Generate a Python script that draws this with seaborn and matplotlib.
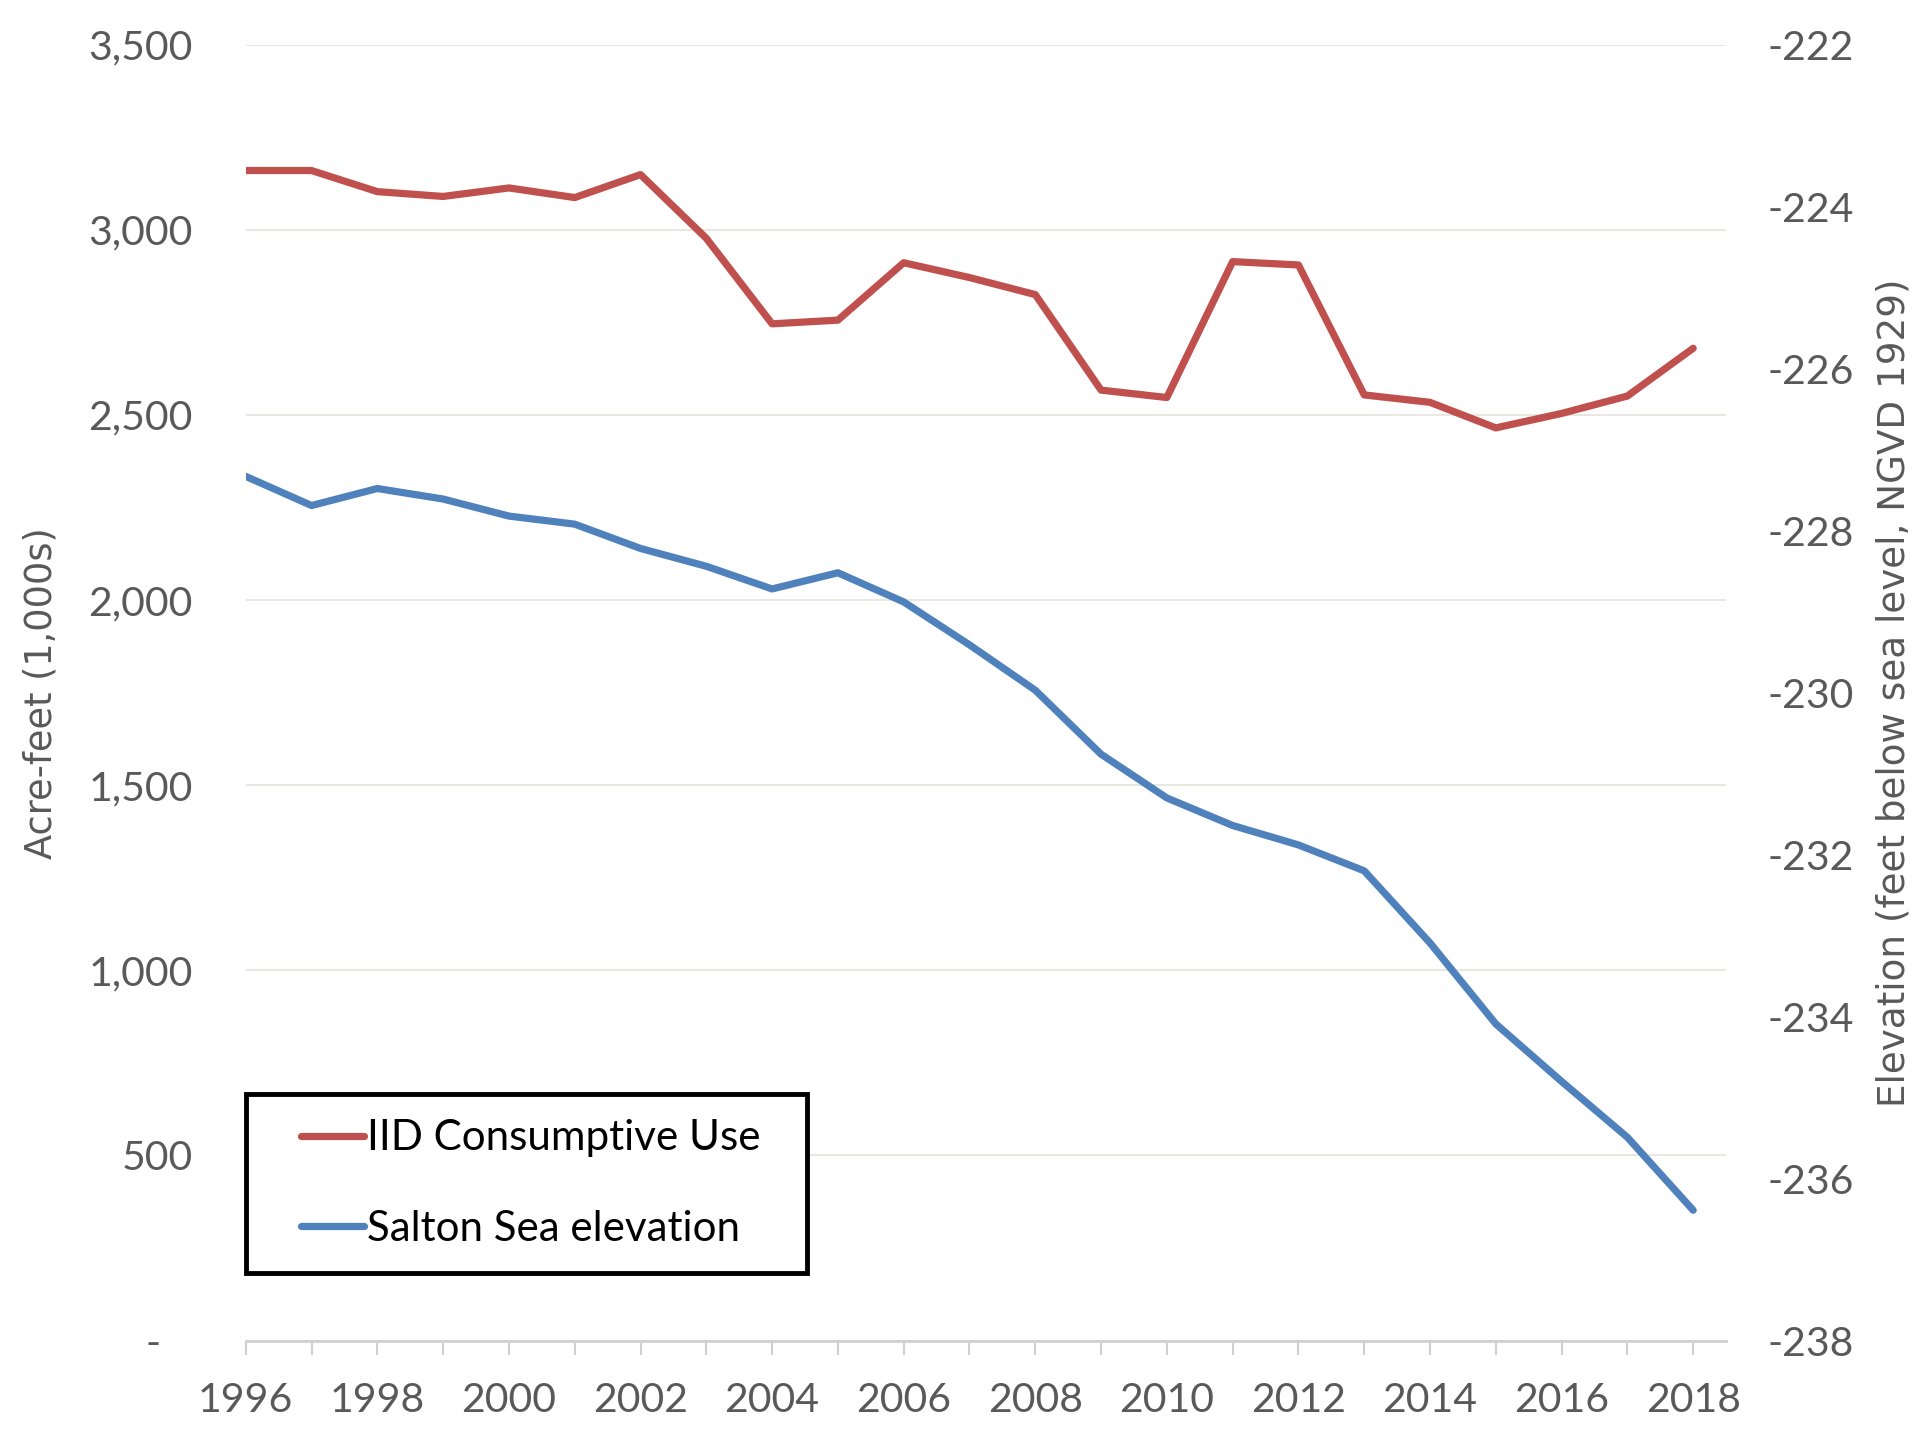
import matplotlib
matplotlib.use("Agg")
import matplotlib.pyplot as plt
import seaborn as sns
from matplotlib.legend_handler import HandlerLine2D
from matplotlib.lines import Line2D
from matplotlib.ticker import FuncFormatter, MultipleLocator

# values
years = list(range(1996, 2019))
iid_use = [3160, 3160, 3103, 3090, 3113, 3087, 3149, 2977, 2746, 2756, 2911, 2871,
           2825, 2567, 2547, 2914, 2905, 2554, 2534, 2465, 2504, 2551, 2680]
sea_elev = [-227.33, -227.69, -227.48, -227.61, -227.82, -227.92, -228.22, -228.44,
            -228.72, -228.52, -228.88, -229.41, -229.97, -230.76, -231.30, -231.64,
            -231.88, -232.20, -233.09, -234.09, -234.80, -235.49, -236.39]
xtick_years = list(range(1996, 2019, 2))

RED = "#C0504D"
BLUE = "#4F81BD"
GRAY = "#595959"

sns.set_theme(style="white")
plt.rcParams["font.family"] = ["Lato", "DejaVu Sans"]

fig, ax = plt.subplots(figsize=(19.2, 14.4), dpi=100)
plt.subplots_adjust(left=0.128, right=0.899, top=0.969, bottom=0.069)
ax2 = ax.twinx()

sns.lineplot(x=years, y=iid_use, ax=ax, color=RED, lw=5.2, label="IID Consumptive Use", legend=False)
sns.lineplot(x=years, y=sea_elev, ax=ax2, color=BLUE, lw=5.2, label="Salton Sea elevation", legend=False)

ax.set_xlim(1996, 2018.5)
ax.set_ylim(0, 3500)
ax2.set_ylim(-238, -222)

ax.yaxis.set_major_locator(MultipleLocator(500))
ax2.yaxis.set_major_locator(MultipleLocator(2))
ax.yaxis.set_major_formatter(FuncFormatter(lambda v, p: "-   " if v == 0 else f"{v:,.0f}"))
ax2.yaxis.set_major_formatter(FuncFormatter(lambda v, p: f"{v:.0f}"))
ax.set_xticks(xtick_years)
ax.set_xticks(years, minor=True)
ax.set_xticklabels([str(y) for y in xtick_years])

ax.grid(axis="y", color="#E6E6DF", lw=1.3)
ax.grid(axis="x", visible=False)
ax2.grid(False)

for a in (ax, ax2):
    for s in ("left", "right", "top", "bottom"):
        a.spines[s].set_visible(False)
ax.spines["bottom"].set_visible(True)
ax.spines["bottom"].set_color("#D0D0D0")
ax.spines["bottom"].set_linewidth(2)

ax.tick_params(axis="y", length=0, pad=38, labelsize=29.5, labelcolor=GRAY)
ax2.tick_params(axis="y", length=0, pad=30, labelsize=29.5, labelcolor=GRAY)
ax.tick_params(axis="x", which="both", direction="out", length=10, width=1.5,
               color="#D0D0D0", bottom=True, labelsize=29.5, labelcolor=GRAY, pad=20)

ax.set_ylabel("Acre-feet (1,000s)", fontsize=26.5, color=GRAY, family="DejaVu Sans")
ax2.set_ylabel("Elevation (feet below sea level, NGVD 1929)", fontsize=26.8, color=GRAY,
               family="DejaVu Sans")
ax.yaxis.set_label_coords(-0.126, 0.5)
ax2.yaxis.set_label_coords(1.101, 0.5)

h1, l1 = ax.get_legend_handles_labels()
h2, l2 = ax2.get_legend_handles_labels()
leg = ax2.legend(h1 + h2, l1 + l2, loc="lower left", bbox_to_anchor=(0, 0.052, 0.379, 0.141),
                 mode="expand", fontsize=30.3, handlelength=2.2, handletextpad=0.07,
                 borderpad=0.6, labelspacing=1.25, borderaxespad=0, fancybox=False,
                 framealpha=1, handler_map={Line2D: HandlerLine2D(xpad=0.72)})
leg.get_frame().set_edgecolor("black")
leg.get_frame().set_linewidth(3.5)
for t in leg.get_texts():
    t.set_color("black")

fig.savefig("out.png", dpi=100)
